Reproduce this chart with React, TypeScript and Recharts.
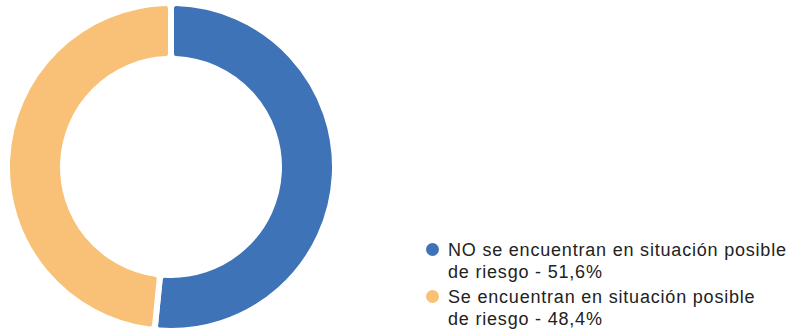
import React from 'react'
import { PieChart, Pie, Cell, Legend } from 'recharts'

const labels = ['NO se encuentran en situación posible de riesgo', 'Se encuentran en situación posible de riesgo']
const values = [51.6, 48.4]
const colors = ['#3E73B8', '#F9C077']

const data = labels.map((name, i) => ({ name, value: values[i] }))

const fmt = (v: number) => v.toFixed(1).replace('.', ',') + '%'

// the original breaks each label before "de riesgo"
const twoLines = (s: string) => s.replace(' de riesgo', '\nde riesgo')

const LegendContent = () => (
  <div style={{ fontFamily: '"Liberation Sans", Arial, sans-serif', fontSize: 18, letterSpacing: 0.8, color: '#222', lineHeight: '22px' }}>
    {data.map((d, i) => (
      <div key={d.name} style={{ display: 'flex', alignItems: 'flex-start', marginBottom: 3 }}>
        <span style={{ width: 13, height: 13, borderRadius: '50%', background: colors[i], marginTop: 4, marginRight: 9, flexShrink: 0 }} />
        <span style={{ whiteSpace: 'pre' }}>{twoLines(`${d.name} - ${fmt(d.value)}`)}</span>
      </div>
    ))}
  </div>
)

export default function App() {
  return (
    <div style={{ position: 'absolute', left: 0, top: 0, background: '#fff' }}>
      <PieChart width={788} height={331} margin={{ top: 0, right: 0, bottom: 0, left: 0 }}>
        <Pie
          data={data}
          dataKey="value"
          cx={171}
          cy={167}
          outerRadius={164}
          innerRadius={108}
          startAngle={90}
          endAngle={-270}
          stroke="#fff"
          strokeWidth={6}
          cornerRadius={5}
          isAnimationActive={false}
        >
          {data.map((d, i) => (
            <Cell key={d.name} fill={colors[i]} />
          ))}
        </Pie>
        <Legend
          content={<LegendContent />}
          wrapperStyle={{ left: 426, top: 239, width: 362 }}
        />
      </PieChart>
    </div>
  )
}
